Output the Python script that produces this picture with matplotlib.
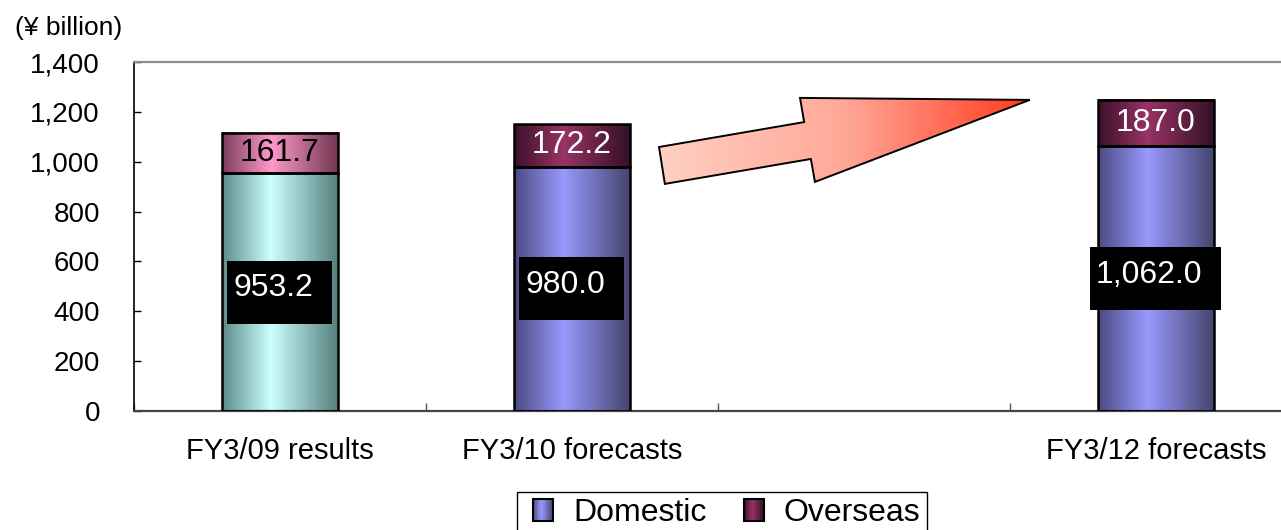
import numpy as np
import matplotlib
matplotlib.use("Agg")
import matplotlib.pyplot as plt
from matplotlib.colors import LinearSegmentedColormap
from matplotlib.patches import Polygon, Rectangle
from matplotlib.legend_handler import HandlerBase
from matplotlib.transforms import offset_copy

plt.rcParams["font.family"] = ["Liberation Sans", "DejaVu Sans"]

# data
categories = ["FY3/09 results", "FY3/10 forecasts", "", "FY3/12 forecasts"]
bar_slots = [0, 1, 3]
domestic = [953.2, 980.0, 1062.0]
overseas = [161.7, 172.2, 187.0]
domestic_labels = ["953.2", "980.0", "1,062.0"]
overseas_labels = ["161.7", "172.2", "187.0"]
yticks = [0, 200, 400, 600, 800, 1000, 1200, 1400]
ytick_labels = ["0", "200", "400", "600", "800", "1,000", "1,200", "1,400"]

# gradient stops (left edge, highlight, right edge)
teal = ("#5b8c89", "#ccffff", "#547e7b")
blue = ("#4a4a80", "#9999ff", "#44446c")
pink = ("#7c3d5e", "#ff99cc", "#70364f")
maroon = ("#3b1029", "#993366", "#331024")
domestic_shades = [teal, blue, blue]
overseas_shades = [pink, maroon, maroon]
overseas_text = ["black", "white", "white"]

# block arrow outline, in (category, value) units
arrow_x = [1.298, 1.795, 1.781, 2.568, 1.832, 1.818, 1.318]
arrow_y = [1059, 1159, 1256, 1248, 919, 1011, 911]


def gradient_cmap(stops):
    return LinearSegmentedColormap.from_list(
        "", [(0.0, stops[0]), (0.42, stops[1]), (1.0, stops[2])]
    )


def shade_bar(ax, patch, stops):
    x0, y0 = patch.get_x(), patch.get_y()
    w, h = patch.get_width(), patch.get_height()
    ax.imshow(
        np.linspace(0, 1, 256)[None, :],
        cmap=gradient_cmap(stops),
        extent=[x0, x0 + w, y0, y0 + h],
        aspect="auto",
        origin="lower",
        zorder=2,
    )


class GradientSquare(HandlerBase):
    def __init__(self, stops, size=14):
        super().__init__()
        self.stops = stops
        self.size = size

    def create_artists(self, legend, orig_handle, xdescent, ydescent,
                       width, height, fontsize, trans):
        cmap = gradient_cmap(self.stops)
        s = self.size
        x0 = -xdescent + width - s
        y0 = -ydescent + (height - 16) / 2
        arts = []
        n = 10
        for i in range(n):
            arts.append(Rectangle((x0 + i * s / n, y0), s / n, 16,
                                  facecolor=cmap((i + 0.5) / n),
                                  edgecolor="none", transform=trans))
        arts.append(Rectangle((x0, y0), s, 16, facecolor="none",
                              edgecolor="black", lw=1.5, transform=trans))
        return arts


fig = plt.figure(figsize=(12.81, 5.30), dpi=100)
ax = fig.add_axes([134 / 1281, 119 / 530, 1168 / 1281, 349 / 530])

dom_bars = ax.bar(bar_slots, domestic, width=0.4, facecolor="none",
                  edgecolor="black", linewidth=1.8, zorder=3)
ovs_bars = ax.bar(bar_slots, overseas, width=0.4, bottom=domestic,
                  facecolor="none", edgecolor="black", linewidth=1.8, zorder=3)
for p, st in zip(dom_bars, domestic_shades):
    shade_bar(ax, p, st)
for p, st in zip(ovs_bars, overseas_shades):
    shade_bar(ax, p, st)

# arrow
verts = np.column_stack([arrow_x, arrow_y])
arrow = Polygon(verts, closed=True, facecolor="none", edgecolor="black",
                linewidth=1.4, zorder=4)
ax.add_patch(arrow)
arrow_cmap = LinearSegmentedColormap.from_list(
    "", [(0.0, "#ffd0c2"), (0.5, "#ffa898"), (1.0, "#ff3a1e")]
)
img = ax.imshow(np.linspace(0, 1, 256)[None, :], cmap=arrow_cmap,
                extent=[min(arrow_x), max(arrow_x), min(arrow_y), max(arrow_y)],
                aspect="auto", origin="lower", zorder=3.5)
img.set_clip_path(arrow)

# axes styling (limits fixed before any label boxes are measured)
ax.set_xlim(-0.5, 3.5)
ax.set_ylim(0, 1400)
ax.set_yticks(yticks)
ax.set_yticklabels(ytick_labels, fontsize=20)
ax.tick_params(axis="y", direction="in", length=5, width=1, pad=24.5)
ax.set_xticks([-0.5, 0.5, 1.5, 2.5, 3.5])
ax.set_xticklabels([])
ax.tick_params(axis="x", which="major", direction="in", length=6, width=1,
               color="#555555")
ax.set_xticks(range(len(categories)), minor=True)
ax.set_xticklabels(categories, minor=True, fontsize=21)
ax.tick_params(axis="x", which="minor", length=0, pad=19)

ax.spines["top"].set_color("#8c8c8c")
ax.spines["top"].set_linewidth(1.6)
ax.spines["right"].set_visible(False)
ax.spines["left"].set_color("black")
ax.spines["left"].set_linewidth(1.2)
ax.spines["bottom"].set_color("#444444")
ax.spines["bottom"].set_linewidth(1.6)

# overseas labels
for x, d, o, lab, c in zip(bar_slots, domestic, overseas, overseas_labels, overseas_text):
    ax.text(x, d + o / 2, lab, ha="center", va="center", fontsize=23,
            color=c, zorder=6)

# domestic labels in black boxes
fig.canvas.draw()
renderer = fig.canvas.get_renderer()
shifted = offset_copy(ax.transData, fig=fig, x=-7, y=4, units="dots")
inv = ax.transData.inverted()
for x, d, lab in zip(bar_slots, domestic, domestic_labels):
    t = ax.text(x, d / 2, lab, ha="center", va="center", fontsize=23,
                color="white", zorder=6, transform=shifted)
    bb = t.get_window_extent(renderer)
    yc = ax.transData.transform((x, d / 2))[1]
    bx0, by0 = inv.transform((bb.x0 - 6, yc - 31.5))
    bx1, by1 = inv.transform((bb.x1 + 19, yc + 31.5))
    ax.add_patch(Rectangle((bx0, by0), bx1 - bx0, by1 - by0,
                           facecolor="black", edgecolor="none", zorder=5))

fig.text(15 / 1281, (530 - 28) / 530, "(¥ billion)", ha="left", va="center",
         fontsize=19)

# legend
h_dom = Rectangle((0, 0), 1, 1)
h_ovs = Rectangle((0, 0), 1, 1)
leg = fig.legend(
    [h_dom, h_ovs], ["Domestic", "Overseas"],
    handler_map={h_dom: GradientSquare(blue), h_ovs: GradientSquare(maroon)},
    loc="upper left", bbox_to_anchor=(517 / 1281, 38 / 530),
    bbox_transform=fig.transFigure, ncol=2, fontsize=23,
    borderaxespad=0, borderpad=0.2, handlelength=0.925, handleheight=0.5,
    handletextpad=0.625, columnspacing=0.88, fancybox=False,
    edgecolor="black", framealpha=1,
)
leg.get_frame().set_linewidth(1.0)

fig.savefig("out.png", dpi=100)
plt.close(fig)
